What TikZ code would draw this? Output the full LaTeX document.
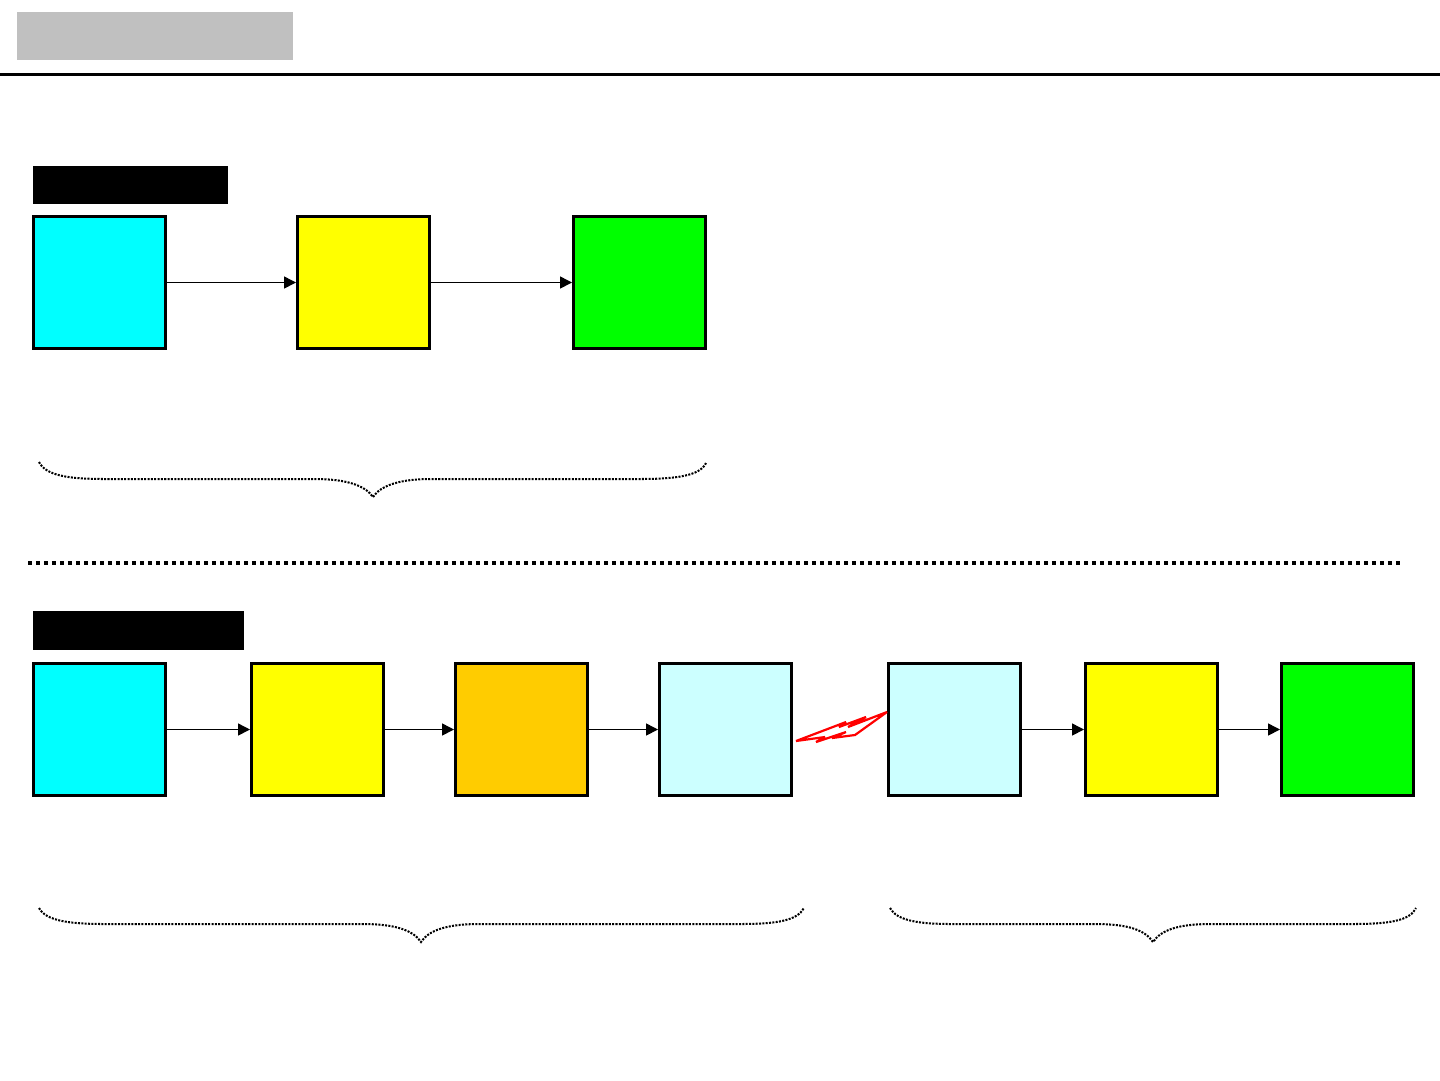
\documentclass[tikz,border=0pt]{standalone}
\usepackage{tikz}
\usetikzlibrary{arrows.meta}
\definecolor{boxcyan}{HTML}{00FFFF}
\definecolor{boxyellow}{HTML}{FFFF00}
\definecolor{boxgreen}{HTML}{00FF00}
\definecolor{boxorange}{HTML}{FFCC00}
\definecolor{boxpale}{HTML}{CCFFFF}
\definecolor{boxgray}{HTML}{C0C0C0}
\tikzset{
	stagebox/.style={draw=black,line width=1.7pt,minimum size=2.64cm,inner sep=0pt,fill=#1},
	flow/.style={line width=0.85pt,-{Triangle[length=0.24cm,width=0.24cm]}},
	brace/.style={line width=1.15pt,dash pattern=on 1.15pt off 0.75pt},
	titlebar/.style={fill=black,inner sep=0pt,anchor=north west}
}
\begin{document}
\begin{tikzpicture}[x=0.02cm,y=-0.02cm]
	\useasboundingbox (0,0) rectangle (1440,1080);
	% header
	\node[titlebar,fill=boxgray,minimum width=5.52cm,minimum height=0.96cm] (head) at (17,12) {};
	\coordinate (ruleL) at (0,74);
	\coordinate (ruleR) at (1440,74);
	\draw[line width=1.7pt] (ruleL)--(ruleR);
	% upper row
	\node[titlebar,minimum width=3.9cm,minimum height=0.76cm] (upperbar) at (33,166) {};
	\node[stagebox=boxcyan] (a1) at (99.5,282.5) {};
	\node[stagebox=boxyellow] (a2) at (363.5,282.5) {};
	\node[stagebox=boxgreen] (a3) at (639.5,282.5) {};
	\draw[flow] (a1)--(a2);
	\draw[flow] (a2)--(a3);
	\draw[brace] (39,462) .. controls (46,476) and (70,479) .. (105,479) -- (315,479)
		.. controls (345,479) and (365,485) .. (373,497)
		.. controls (381,485) and (401,479) .. (431,479) -- (640,479)
		.. controls (675,479) and (700,476) .. (706,463);
	% separator
	\coordinate (sepL) at (28,563);
	\coordinate (sepR) at (1400,563);
	\draw[line width=0.08cm,dash pattern=on 0.08cm off 0.08cm] (sepL)--(sepR);
	% lower row
	\node[titlebar,minimum width=4.22cm,minimum height=0.78cm] (lowerbar) at (33,611) {};
	\node[stagebox=boxcyan] (b1) at (99.5,729.5) {};
	\node[stagebox=boxyellow] (b2) at (317.5,729.5) {};
	\node[stagebox=boxorange] (b3) at (521.5,729.5) {};
	\node[stagebox=boxpale] (b4) at (725.5,729.5) {};
	\node[stagebox=boxpale] (b5) at (954.5,729.5) {};
	\node[stagebox=boxyellow] (b6) at (1151.5,729.5) {};
	\node[stagebox=boxgreen] (b7) at (1347.5,729.5) {};
	\foreach \i/\j in {b1/b2,b2/b3,b3/b4,b5/b6,b6/b7}
		\draw[flow] (\i)--(\j);
	% radio link
	\draw[red,line width=1.25pt,line join=miter,miter limit=4] (796,741)--(846,722)--(839,727)--(866,717)--(848,727)--(887,712)
		--(855,735)--(832,738)--(846,732)--(816,742)--(825,737)--cycle;
	\draw[brace] (39,908) .. controls (46,921) and (70,924) .. (105,924) -- (362,924)
		.. controls (395,924) and (413,930) .. (421,942)
		.. controls (429,930) and (447,924) .. (480,924) -- (740,924)
		.. controls (775,924) and (797,921) .. (804,908);
	\draw[brace] (890,908) .. controls (897,921) and (920,924) .. (952,924) -- (1095,924)
		.. controls (1128,924) and (1145,930) .. (1153,942)
		.. controls (1161,930) and (1178,924) .. (1211,924) -- (1352,924)
		.. controls (1388,924) and (1410,921) .. (1416,908);
\end{tikzpicture}
\end{document}
